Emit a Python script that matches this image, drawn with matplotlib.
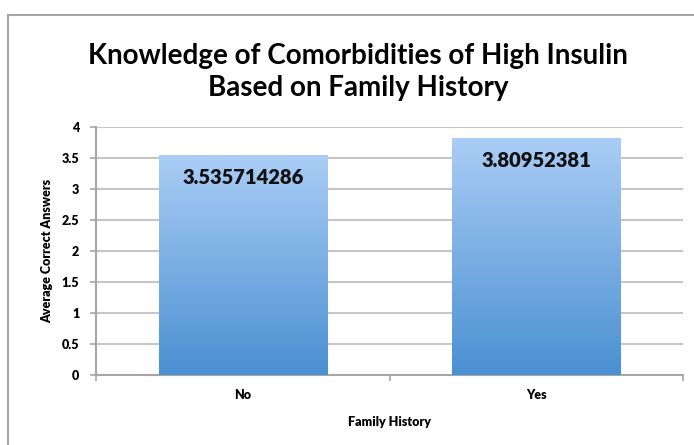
import numpy as np
import matplotlib.pyplot as plt
from matplotlib.lines import Line2D
from matplotlib.colors import LinearSegmentedColormap

categories = ["No", "Yes"]
values = [3.535714286, 3.80952381]
labels = ["3.535714286", "3.80952381"]
yticks = [0, 0.5, 1, 1.5, 2, 2.5, 3, 3.5, 4]

plt.rcParams['font.family'] = ['Lato', 'DejaVu Sans']

fig = plt.figure(figsize=(6.94, 4.45), dpi=100)
ax = fig.add_axes([96 / 694, 70 / 445, 587 / 694, 248 / 445])

# outer chart frame (left and top only visible)
grey = "#A6A6A6"
fig.add_artist(Line2D([8 / 694, 1], [1 - 15 / 445, 1 - 15 / 445], color=grey, lw=1.5,
                      transform=fig.transFigure))
fig.add_artist(Line2D([8 / 694, 8 / 694], [0, 1 - 15 / 445], color=grey, lw=1.5,
                      transform=fig.transFigure))

x = np.arange(len(categories))
bars = ax.bar(x, values, width=0.573, color="none", zorder=3)

cmap = LinearSegmentedColormap.from_list("blue", ["#4A90D2", "#AACDF5"])
grad = np.linspace(0, 1, 256).reshape(-1, 1)
for b in bars:
    x0, w, h = b.get_x(), b.get_width(), b.get_height()
    ax.imshow(grad, extent=[x0, x0 + w, 0, h], origin="lower", cmap=cmap,
              aspect="auto", zorder=3)

for xi, v, lab in zip(x, values, labels):
    ax.text(xi, v - 0.2, lab, ha="center", va="top", fontsize=14.5,
            fontweight="heavy", color="#111111", zorder=4)

ax.set_xlim(-0.5, 1.5)
ax.set_ylim(0, 4)
ax.set_yticks(yticks)
ax.set_yticklabels([f"{t:g}" for t in yticks])
ax.set_xticks(x)
ax.set_xticklabels(categories)
ax.set_xticks([-0.5, 0.5, 1.5], minor=True)
ax.tick_params(axis="x", which="major", length=0, pad=10)
ax.tick_params(axis="x", which="minor", length=4, color=grey, width=1.2)
ax.tick_params(axis="y", length=4, color=grey, width=1.2, pad=8)
for t in ax.get_xticklabels() + ax.get_yticklabels():
    t.set_fontsize(9)
    t.set_fontweight("heavy")

ax.grid(axis="y", color="#C6C6C6", lw=1.5, zorder=0)
ax.set_axisbelow(True)
for s in ["top", "right"]:
    ax.spines[s].set_visible(False)
for s in ["left", "bottom"]:
    ax.spines[s].set_color(grey)
    ax.spines[s].set_linewidth(1.5)

ax.set_xlabel("Family History", fontsize=9, fontweight="heavy", labelpad=11)
ax.set_ylabel("Average Correct Answers", fontsize=9, fontweight="heavy", labelpad=6)

fig.text(0.516, 1 - 72 / 445, "Knowledge of Comorbidities of High Insulin\nBased on Family History",
         ha="center", va="center", fontsize=20, fontweight="bold", linespacing=1.3)

fig.savefig("out.png", dpi=100)
